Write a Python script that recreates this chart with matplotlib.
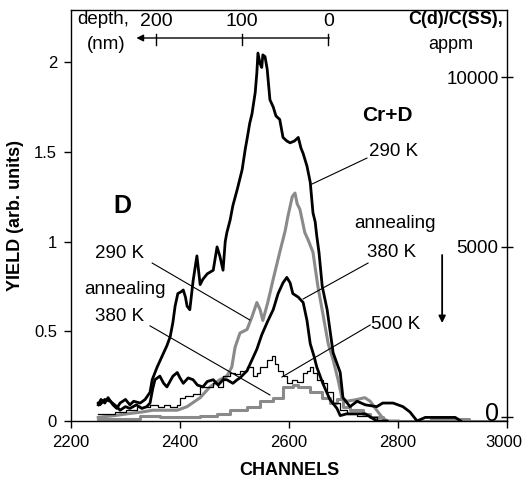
import matplotlib
matplotlib.use("Agg")
import matplotlib.pyplot as plt
import matplotlib.transforms as mtransforms
import numpy as np

plt.rcParams['font.family'] = ['Liberation Sans', 'DejaVu Sans']

# Cr+D, 290 K (thick black)
crd290_ch = [2250, 2255, 2262, 2268, 2277, 2284, 2290, 2300, 2308, 2315, 2327, 2336, 2345, 2349, 2358,
             2367, 2376, 2382, 2387, 2391, 2396, 2402, 2406, 2410, 2413, 2418, 2424, 2428, 2431, 2437,
             2442, 2450, 2461, 2468, 2473, 2479, 2483, 2486, 2492, 2497, 2505, 2514, 2520, 2523, 2528,
             2532, 2538, 2541, 2543, 2547, 2550, 2552, 2556, 2560, 2565, 2571, 2576, 2583, 2589, 2596,
             2602, 2610, 2617, 2622, 2626, 2633, 2639, 2644, 2648, 2651, 2655, 2661, 2670, 2681, 2694,
             2699, 2712, 2725, 2740, 2761, 2772, 2791, 2809, 2822, 2835, 2850, 2905, 2915]
crd290_y = [0.09, 0.12, 0.10, 0.13, 0.09, 0.07, 0.10, 0.12, 0.09, 0.11, 0.10, 0.12, 0.16, 0.23, 0.30,
            0.36, 0.42, 0.47, 0.55, 0.64, 0.71, 0.72, 0.73, 0.69, 0.64, 0.62, 0.78, 0.86, 0.92, 0.76,
            0.79, 0.82, 0.84, 0.97, 0.92, 0.84, 1.00, 1.05, 1.12, 1.20, 1.29, 1.40, 1.52, 1.57, 1.66,
            1.71, 1.83, 1.94, 2.05, 1.99, 1.97, 2.04, 2.03, 1.96, 1.79, 1.75, 1.70, 1.68, 1.58, 1.56,
            1.55, 1.56, 1.58, 1.52, 1.49, 1.42, 1.33, 1.16, 1.11, 1.03, 0.94, 0.75, 0.62, 0.38, 0.27,
            0.13, 0.08, 0.11, 0.09, 0.08, 0.10, 0.10, 0.08, 0.05, 0.00, 0.02, 0.02, 0.00]

# Cr+D, annealing 380 K (thick black)
crd380_ch = [2250, 2253, 2262, 2272, 2284, 2290, 2300, 2308, 2320, 2330, 2339, 2345, 2350, 2354, 2363,
             2370, 2376, 2387, 2395, 2400, 2406, 2415, 2424, 2432, 2442, 2450, 2461, 2470, 2479, 2486,
             2497, 2505, 2510, 2523, 2532, 2541, 2550, 2560, 2571, 2580, 2589, 2596, 2602, 2607, 2617,
             2626, 2633, 2639, 2646, 2651, 2662, 2675, 2688, 2694, 2706, 2740, 2761, 2780]
crd380_y = [0.10, 0.09, 0.12, 0.11, 0.08, 0.06, 0.08, 0.07, 0.09, 0.07, 0.08, 0.10, 0.18, 0.23, 0.25,
            0.21, 0.19, 0.25, 0.27, 0.24, 0.21, 0.24, 0.23, 0.20, 0.19, 0.22, 0.23, 0.20, 0.23, 0.23,
            0.21, 0.23, 0.24, 0.28, 0.34, 0.40, 0.48, 0.55, 0.62, 0.71, 0.77, 0.80, 0.77, 0.71, 0.69,
            0.66, 0.56, 0.43, 0.36, 0.30, 0.21, 0.12, 0.07, 0.03, 0.04, 0.04, 0.00, 0.00]

# Cr+D, annealing 500 K (thin black)
crd500_ch = [2250, 2280, 2300, 2321, 2340, 2345, 2360, 2370, 2382, 2395, 2400, 2410, 2424, 2432, 2437,
             2450, 2461, 2470, 2479, 2492, 2500, 2510, 2523, 2534, 2541, 2547, 2560, 2569, 2574, 2580,
             2589, 2596, 2606, 2615, 2626, 2633, 2639, 2644, 2651, 2662, 2670, 2681, 2694, 2706, 2725,
             2749, 2761, 2780]
crd500_y = [0.04, 0.05, 0.06, 0.08, 0.08, 0.09, 0.08, 0.09, 0.08, 0.09, 0.13, 0.14, 0.15, 0.15, 0.19,
            0.19, 0.21, 0.19, 0.25, 0.27, 0.26, 0.28, 0.30, 0.25, 0.27, 0.30, 0.34, 0.36, 0.32, 0.28,
            0.25, 0.21, 0.23, 0.22, 0.27, 0.28, 0.30, 0.27, 0.23, 0.21, 0.16, 0.10, 0.06, 0.04, 0.03,
            0.02, 0.00, 0.00]

# D, 290 K (thick gray)
d290_ch = [2250, 2280, 2303, 2330, 2350, 2380, 2395, 2413, 2437, 2455, 2473, 2486, 2495, 2501, 2510,
           2523, 2532, 2541, 2547, 2552, 2561, 2571, 2583, 2593, 2598, 2606, 2611, 2615, 2620, 2629,
           2635, 2644, 2653, 2662, 2672, 2681, 2690, 2697, 2706, 2725, 2739, 2749, 2761, 2771, 2780, 2800]
d290_y = [0.02, 0.03, 0.04, 0.05, 0.06, 0.06, 0.06, 0.08, 0.13, 0.19, 0.23, 0.25, 0.30, 0.41, 0.49,
          0.51, 0.58, 0.66, 0.62, 0.56, 0.66, 0.79, 0.94, 1.06, 1.14, 1.25, 1.27, 1.21, 1.18, 1.05,
          1.01, 0.94, 0.75, 0.60, 0.43, 0.34, 0.23, 0.13, 0.11, 0.12, 0.13, 0.11, 0.06, 0.02, 0.00, 0.00]

# D, annealing 380 K (thick gray)
d380_ch = [2250, 2300, 2327, 2363, 2400, 2437, 2468, 2492, 2523, 2547, 2571, 2589, 2607, 2617, 2626,
           2639, 2661, 2675, 2688, 2699, 2712, 2736, 2749, 2772, 2850, 2860, 2920, 2930, 3000]
d380_y = [0.01, 0.01, 0.03, 0.02, 0.02, 0.03, 0.04, 0.06, 0.08, 0.11, 0.13, 0.19, 0.20, 0.19, 0.19,
          0.16, 0.13, 0.10, 0.12, 0.08, 0.06, 0.04, 0.02, 0.00, 0.00, 0.01, 0.01, 0.00, 0.00]

x_ticks = [2200, 2400, 2600, 2800, 3000]
y_ticks = [0, 0.5, 1, 1.5, 2]
y_ticklabels = ["0", "0.5", "1", "1.5", "2"]
conc_ticks = [0, 5000, 10000]
depth_ticks = [200, 100, 0]
depth_zero_channel = 2672
channels_per_nm = 1.58

fig = plt.figure(figsize=(5.23, 4.83), dpi=100)
ax = fig.add_axes([71/523, 1-421/483, (507-71)/523, (421-10)/483])

gray = '#8a8a8a'
ax.plot(d380_ch, d380_y, color=gray, lw=2.2, drawstyle='steps-post')
ax.plot(d290_ch, d290_y, color=gray, lw=2.2)
ax.plot(crd500_ch, crd500_y, color='black', lw=0.9, drawstyle='steps-post')
ax.plot(crd380_ch, crd380_y, color='black', lw=2.0)
ax.plot(crd290_ch, crd290_y, color='black', lw=2.0)

ax.set_xlim(2200, 3000)
ax.set_ylim(0, 2.29)
ax.set_xticks(x_ticks)
ax.set_yticks(y_ticks)
ax.set_yticklabels(y_ticklabels)
ax.tick_params(axis='both', direction='out', length=5, width=1, labelsize=12, pad=5)
for s in ax.spines.values():
    s.set_linewidth(1.0)

# nudge last x tick label so it stays inside the figure
fig.canvas.draw()
last_lbl = ax.get_xticklabels()[-1]
last_lbl.set_transform(last_lbl.get_transform() +
                       mtransforms.ScaledTranslation(-3/100, 0, fig.dpi_scale_trans))

ax.set_xlabel("CHANNELS", fontsize=13, fontweight='bold', labelpad=9)
ax.set_ylabel("YIELD (arb. units)", fontsize=13, fontweight='bold', labelpad=7)

# right concentration axis
ax2 = ax.twinx()
ax2.set_ylim(-118, 11971)
ax2.set_yticks(conc_ticks)
ax2.set_yticklabels(["", "5000", "10000"])
ax2.tick_params(axis='y', direction='inout', length=8, width=1, labelsize=13.5,
                pad=-10, labelleft=False, labelright=True)
for lbl in ax2.get_yticklabels():
    lbl.set_horizontalalignment('right')
ax2.text(2985, 80, "0", fontsize=18, ha='right', va='center')
for s in ax2.spines.values():
    s.set_visible(False)

# top depth scale
arrow_y = 2.134
ax.annotate("", xy=(2320, arrow_y), xytext=(depth_zero_channel + 2, arrow_y),
            arrowprops=dict(arrowstyle='-|>', color='black', lw=1.0, mutation_scale=10,
                            shrinkA=0, shrinkB=0), annotation_clip=False)
for d in depth_ticks:
    cx = depth_zero_channel - d * channels_per_nm
    ax.plot([cx, cx], [arrow_y - 0.04, arrow_y + 0.025], color='black', lw=1.0, clip_on=False)
    ax.text(cx, 2.225, str(d), fontsize=14, ha='center', va='center')
ax.text(2211, 2.235, "depth,", fontsize=13.5, ha='left', va='center')
ax.text(2229, 2.095, "(nm)", fontsize=13.5, ha='left', va='center')
ax.text(2905, 2.235, "C(d)/C(SS),", fontsize=13, fontweight='bold', ha='center', va='center')
ax.text(2897, 2.095, "appm", fontsize=13, ha='center', va='center')

# annotations
ax.text(2780, 1.70, "Cr+D", fontsize=15, fontweight='bold', ha='center', va='center')
ax.text(2791, 1.50, "290 K", fontsize=13.5, ha='center', va='center')
ax.plot([2642, 2743], [1.32, 1.465], color='black', lw=0.8)
ax.text(2795, 1.10, "annealing", fontsize=13.5, ha='center', va='center')
ax.text(2789, 0.94, "380 K", fontsize=13.5, ha='center', va='center')
ax.plot([2626, 2745], [0.68, 0.88], color='black', lw=0.8)
ax.text(2795, 0.54, "500 K", fontsize=13.5, ha='center', va='center')
ax.plot([2587, 2749], [0.245, 0.535], color='black', lw=0.8)
ax.annotate("", xy=(2881, 0.546), xytext=(2881, 0.925),
            arrowprops=dict(arrowstyle='-|>', color='black', lw=1.3, mutation_scale=10,
                            shrinkA=0, shrinkB=0))

ax.text(2295, 1.20, "D", fontsize=18, fontweight='bold', ha='center', va='center')
ax.text(2290, 0.935, "290 K", fontsize=13.5, ha='center', va='center')
ax.plot([2349, 2528], [0.88, 0.563], color='black', lw=0.8)
ax.text(2299, 0.73, "annealing", fontsize=13.5, ha='center', va='center')
ax.text(2290, 0.58, "380 K", fontsize=13.5, ha='center', va='center')
ax.plot([2345, 2565], [0.53, 0.145], color='black', lw=0.8)

fig.savefig("out.png", dpi=100)
